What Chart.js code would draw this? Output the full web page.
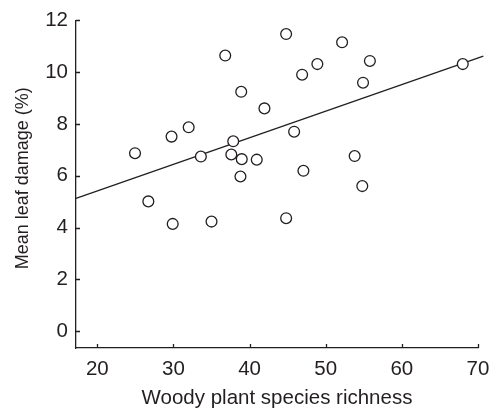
<!DOCTYPE html>
<html>
<head>
<meta charset="utf-8">
<script src="https://cdn.jsdelivr.net/npm/chart.js@4.4.1/dist/chart.umd.min.js"></script>
<style>
  html, body { margin: 0; padding: 0; background: #fff; }
  #wrap { width: 500px; height: 412px; }
</style>
</head>
<body>
<div id="wrap"><canvas id="damageChart"></canvas></div>
<script>
// species richness per site and mean leaf damage (%)
const richness = [44.8, 52.15, 36.8, 48.9, 55.8, 46.9, 68.0, 54.9, 38.9, 41.95, 32.0, 29.75, 45.85, 37.85,
                  24.95, 33.6, 37.6, 38.97, 40.94, 53.8, 47.07, 38.8, 54.8, 26.7, 29.9, 35.0, 44.8];
const damage = [11.47, 11.15, 10.64, 10.31, 10.43, 9.90, 10.31, 9.59, 9.24, 8.60, 7.87, 7.51, 7.70, 7.33,
                6.87, 6.74, 6.82, 6.64, 6.62, 6.76, 6.19, 5.97, 5.60, 5.01, 4.14, 4.23, 4.36];

// fitted regression line end points
const fitX = [17.2, 70.7];
const fitY = [5.13, 10.62];

const xTicks = [20, 30, 40, 50, 60, 70];
const yTicks = [0, 2, 4, 6, 8, 10, 12];
const yTitle = 'Mean leaf damage (%)';

const ink = '#231f20';
const family = '"Liberation Sans", Arial, sans-serif';
const font = { family: family, size: 20.5 };

// tick marks pointing into the plot area, plus the y axis title
const innerTicks = {
    id: 'innerTicks',
    afterDraw(chart) {
        const { ctx, chartArea, scales } = chart;
        ctx.save();
        ctx.strokeStyle = ink;
        ctx.lineWidth = 1.3;
        ctx.beginPath();
        xTicks.forEach(v => {
            const px = Math.round(scales.x.getPixelForValue(v)) + 0.5;
            ctx.moveTo(px, chartArea.bottom);
            ctx.lineTo(px, chartArea.bottom - 4);
        });
        yTicks.forEach(v => {
            const py = Math.round(scales.y.getPixelForValue(v)) + 0.5;
            ctx.moveTo(chartArea.left, py);
            ctx.lineTo(chartArea.left + 4, py);
        });
        ctx.stroke();

        // title sits a little above the middle of the axis
        ctx.translate(23, scales.y.getPixelForValue(5.9));
        ctx.rotate(-Math.PI / 2);
        ctx.fillStyle = ink;
        ctx.font = '18px ' + family;
        ctx.textAlign = 'center';
        ctx.textBaseline = 'middle';
        ctx.fillText(yTitle, 0, 0);
        ctx.restore();
    }
};

new Chart(document.getElementById('damageChart'), {
    type: 'scatter',
    data: {
        datasets: [
            {
                type: 'line',
                data: fitX.map((x, i) => ({ x: x, y: fitY[i] })),
                borderColor: ink,
                borderWidth: 1.3,
                pointRadius: 0,
                clip: false,
                order: 2
            },
            {
                data: richness.map((x, i) => ({ x: x, y: damage[i] })),
                backgroundColor: '#ffffff',
                borderColor: ink,
                borderWidth: 1.3,
                pointRadius: 5.4,
                clip: false,
                order: 1
            }
        ]
    },
    options: {
        responsive: true,
        maintainAspectRatio: false,
        animation: false,
        layout: { padding: { top: 17, right: 22, left: 0, bottom: 0 } },
        plugins: {
            legend: { display: false },
            tooltip: { enabled: false }
        },
        scales: {
            x: {
                type: 'linear',
                min: 17.2,
                max: 70,
                afterBuildTicks: s => { s.ticks = xTicks.map(v => ({ value: v })); },
                afterFit: s => { s.height = 64; },
                grid: { display: false, drawTicks: false },
                border: { color: ink, width: 1.3 },
                ticks: { color: ink, font: font, padding: 9, maxRotation: 0 },
                title: {
                    display: true,
                    text: 'Woody plant species richness',
                    color: ink,
                    font: font,
                    padding: { top: 0, bottom: 1.5 }
                }
            },
            y: {
                type: 'linear',
                min: -0.65,
                max: 12,
                afterBuildTicks: s => { s.ticks = yTicks.map(v => ({ value: v })); },
                afterFit: s => { s.width = 76; },
                grid: { display: false, drawTicks: false },
                border: { color: ink, width: 1.3 },
                ticks: { color: ink, font: font, padding: 8 }
            }
        }
    },
    plugins: [innerTicks]
});
</script>
</body>
</html>
